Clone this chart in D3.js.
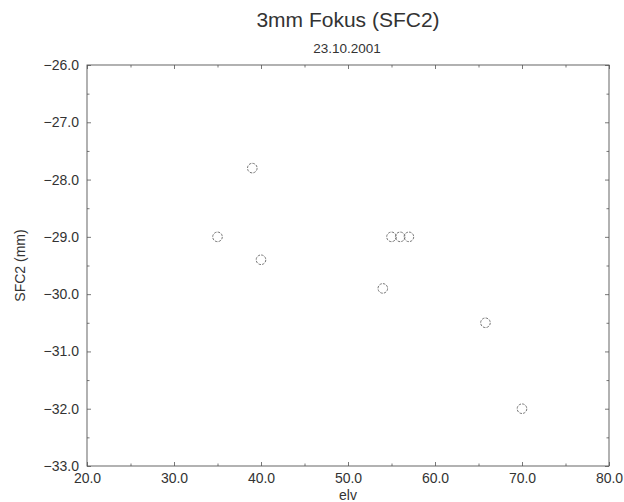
<!DOCTYPE html>
<html>
<head>
<meta charset="utf-8">
<script src="https://cdn.jsdelivr.net/npm/d3@7"></script>
<style>
  body { margin: 0; background: #fff; }
  svg { display: block; }
  text { font-family: "Liberation Sans", Arial, Helvetica, sans-serif; fill: #333; }
</style>
</head>
<body>
<svg id="chart" width="624" height="502"></svg>
<script>
// Data
const elv  = [35, 39, 40, 54, 55, 56, 57, 65.8, 70];
const sfc2 = [-29.0, -27.8, -29.4, -29.9, -29.0, -29.0, -29.0, -30.5, -32.0];
const xTicks = [20, 30, 40, 50, 60, 70, 80];
const xMinor = [25, 35, 45, 55, 65, 75];
const yTicks = [-26, -27, -28, -29, -30, -31, -32, -33];
const yMinor = [-26.5, -27.5, -28.5, -29.5, -30.5, -31.5, -32.5];
const title = "3mm Fokus (SFC2)";
const subtitle = "23.10.2001";
const xLabel = "elv";
const yLabel = "SFC2 (mm)";

const svg = d3.select("#chart");
const L = 87, R = 609, T = 65, B = 466;
const x = d3.scaleLinear().domain([20, 80]).range([L, R]);
const y = d3.scaleLinear().domain([-33, -26]).range([B, T]);
const fmt = d3.format(".1f");
const lineColor = "#555";

function styleAxis(g) {
  g.select(".domain").remove();
  g.selectAll(".tick line").attr("stroke", lineColor).attr("stroke-width", 0.8);
  g.selectAll("text").style("font-size", "14px").attr("fill", "#333");
}

// frame
svg.append("rect").attr("x", L).attr("y", T).attr("width", R - L).attr("height", B - T)
  .attr("fill", "none").attr("stroke", lineColor).attr("stroke-width", 0.9);

// Left axis major + minor
svg.append("g").attr("transform", `translate(${L},0)`)
  .call(d3.axisLeft(y).tickValues(yTicks).tickSize(-4).tickPadding(8).tickFormat(fmt)).call(styleAxis);
svg.append("g").attr("transform", `translate(${L},0)`)
  .call(d3.axisLeft(y).tickValues(yMinor).tickSize(-2.5).tickFormat("")).call(styleAxis);
// Right axis
svg.append("g").attr("transform", `translate(${R},0)`)
  .call(d3.axisRight(y).tickValues(yTicks).tickSize(-4).tickFormat("")).call(styleAxis);
svg.append("g").attr("transform", `translate(${R},0)`)
  .call(d3.axisRight(y).tickValues(yMinor).tickSize(-2.5).tickFormat("")).call(styleAxis);
// Bottom axis
svg.append("g").attr("transform", `translate(0,${B})`)
  .call(d3.axisBottom(x).tickValues(xTicks).tickSize(-4).tickPadding(7).tickFormat(fmt)).call(styleAxis);
svg.append("g").attr("transform", `translate(0,${B})`)
  .call(d3.axisBottom(x).tickValues(xMinor).tickSize(-2.5).tickFormat("")).call(styleAxis);
// Top axis
svg.append("g").attr("transform", `translate(0,${T})`)
  .call(d3.axisTop(x).tickValues(xTicks).tickSize(-4).tickFormat("")).call(styleAxis);
svg.append("g").attr("transform", `translate(0,${T})`)
  .call(d3.axisTop(x).tickValues(xMinor).tickSize(-2.5).tickFormat("")).call(styleAxis);

// points
svg.append("g").selectAll("circle")
  .data(elv.map((e, i) => ({ e, s: sfc2[i] })))
  .join("circle")
  .attr("cx", d => x(d.e))
  .attr("cy", d => y(d.s))
  .attr("r", 4.8)
  .attr("fill", "none")
  .attr("stroke", "#666")
  .attr("stroke-width", 0.9)
  .attr("stroke-dasharray", "2.5,1.2");

// titles
svg.append("text").attr("x", 348).attr("y", 27).attr("text-anchor", "middle")
  .style("font-size", "21px").text(title);
svg.append("text").attr("x", 347).attr("y", 53).attr("text-anchor", "middle")
  .style("font-size", "13.5px").text(subtitle);
svg.append("text").attr("x", (L + R) / 2).attr("y", 500).attr("text-anchor", "middle")
  .style("font-size", "14px").text(xLabel);
svg.append("text").attr("transform", `translate(25,${(T + B) / 2}) rotate(-90)`)
  .attr("text-anchor", "middle").style("font-size", "14px").text(yLabel);
</script>
</body>
</html>
